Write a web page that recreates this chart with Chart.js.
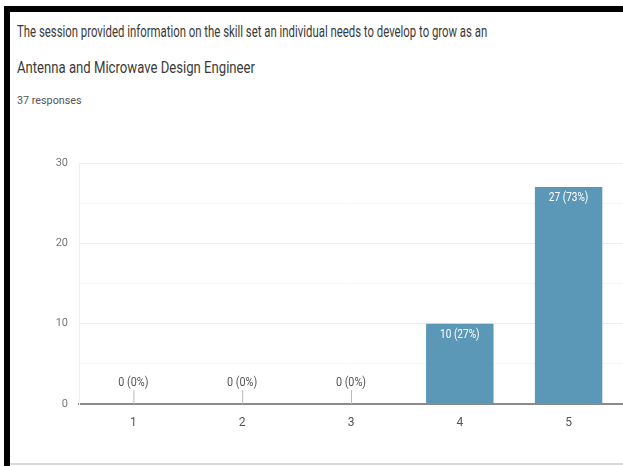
<!DOCTYPE html>
<html>
<head>
<meta charset="utf-8">
<script src="https://cdn.jsdelivr.net/npm/chart.js@4.4.0/dist/chart.umd.min.js"></script>
<style>
  html, body { margin:0; padding:0; background:#fff; }
  body { width:623px; height:466px; position:relative; overflow:hidden; font-family: Roboto, "Liberation Sans", sans-serif; }
  #frameTop { position:absolute; left:4px; top:6px; width:619px; height:6px; background:#000; }
  #frameLeft { position:absolute; left:4px; top:6px; width:6px; height:460px; background:#000; }
  #frameBottom { position:absolute; left:10px; top:463px; width:613px; height:2px; background:#d8d8d8; }
  .t { position:absolute; left:17px; color:#3a3a3a; white-space:nowrap; transform-origin:0 0; }
  #t1 { top:22px; font-size:16px; transform:scaleX(0.71); }
  #t2 { top:58px; font-size:16px; transform:scaleX(0.82); }
  #t3 { top:94px; font-size:11px; color:#555; transform:scaleX(0.98); }
  #wrap { position:absolute; left:10px; top:140px; width:613px; height:320px; }
</style>
</head>
<body>
<div id="frameTop"></div>
<div id="frameLeft"></div>
<div id="frameBottom"></div>
<div class="t" id="t1">The session provided information on the skill set an individual needs to develop to grow as an</div>
<div class="t" id="t2">Antenna and Microwave Design Engineer</div>
<div class="t" id="t3">37 responses</div>
<div id="wrap"><canvas id="c" width="613" height="320"></canvas></div>
<script>
const categories = ['1', '2', '3', '4', '5'];
const counts = [0, 0, 0, 10, 27];
const yTickLabels = [0, 10, 20, 30];

const total = counts.reduce((a, b) => a + b, 0);

const labelPlugin = {
  id: 'barLabels',
  afterDatasetsDraw(chart) {
    const ctx = chart.ctx;
    const meta = chart.getDatasetMeta(0);
    const yScale = chart.scales.y;
    ctx.save();
    ctx.font = '12px Roboto, sans-serif';
    ctx.textAlign = 'center';
    meta.data.forEach((bar, i) => {
      const v = counts[i];
      const pct = Math.round(v / total * 100);
      const txt = v + ' (' + pct + '%)';
      const base = yScale.getPixelForValue(0);
      if (v === 0) {
        ctx.strokeStyle = '#bbb';
        ctx.lineWidth = 1;
        ctx.beginPath();
        ctx.moveTo(bar.x + 0.5, base - 14);
        ctx.lineTo(bar.x + 0.5, base);
        ctx.stroke();
        ctx.fillStyle = '#555';
        ctx.textBaseline = 'bottom';
        ctx.save();
        ctx.translate(bar.x, base - 15);
        ctx.scale(0.9, 1);
        ctx.fillText(txt, 0, 0);
        ctx.restore();
      } else {
        ctx.fillStyle = '#ffffff';
        ctx.textBaseline = 'top';
        ctx.save();
        ctx.translate(bar.x, bar.y + 5);
        ctx.scale(0.84, 1);
        ctx.fillText(txt, 0, 0);
        ctx.restore();
      }
    });
    ctx.restore();
  }
};

new Chart(document.getElementById('c'), {
  type: 'bar',
  data: {
    labels: categories,
    datasets: [{
      data: counts,
      backgroundColor: '#5b98b8',
      borderWidth: 0,
      categoryPercentage: 1.0,
      barPercentage: 0.62
    }]
  },
  options: {
    responsive: false,
    animation: false,
    events: [],
    layout: { padding: { left: 39, right: 0, top: 23, bottom: 0 } },
    plugins: { legend: { display: false }, tooltip: { enabled: false }, title: { display: false } },
    scales: {
      x: {
        grid: { display: false, drawTicks: false },
        border: { display: true, color: '#8a8a8a', width: 2 },
        ticks: { color: '#555', font: { size: 12, family: 'Roboto' }, padding: 12 },
        afterFit(s) { s.height = 56; }
      },
      y: {
        min: 0, max: 30,
        ticks: {
          stepSize: 5,
          color: '#777',
          font: { size: 11, family: 'Roboto' },
          padding: 11,
          callback: (v) => yTickLabels.includes(v) ? String(v) : ''
        },
        grid: {
          drawTicks: false,
          color: (c) => (c.tick && c.tick.value % 10 === 0) ? '#ececec' : '#f6f6f6',
          lineWidth: 1
        },
        border: { display: true, color: '#f0f0f0' },
        afterFit(s) { s.width = 30; }
      }
    }
  },
  plugins: [labelPlugin]
});
</script>
</body>
</html>
